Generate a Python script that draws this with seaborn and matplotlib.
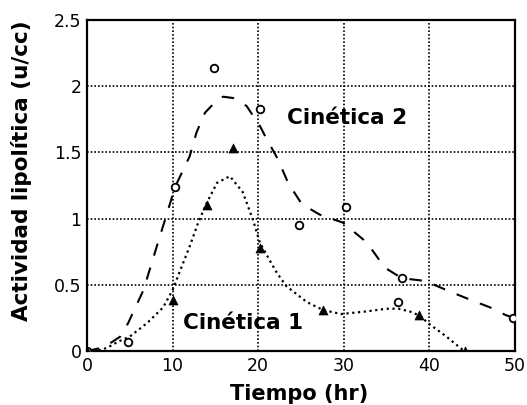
import numpy as np
import pandas as pd
import matplotlib
matplotlib.use("Agg")
import matplotlib.pyplot as plt
from matplotlib.ticker import MultipleLocator
import seaborn as sns

# ---- data ----
circ_t = [0, 4.8, 10.3, 14.8, 20.2, 24.8, 30.3, 36.4, 36.8, 49.8]
circ_v = [0, 0.07, 1.24, 2.14, 1.83, 0.95, 1.09, 0.37, 0.55, 0.25]

tri_t = [0, 10.1, 14.0, 17.1, 20.2, 27.6, 38.8, 44.2]
tri_v = [0, 0.385, 1.10, 1.53, 0.78, 0.31, 0.27, 0]

fit2_t = [0, 2, 3.9, 4.8, 6.6, 8.3, 9.5, 10.3, 12, 12.8, 13.8, 15, 15.9, 17.1,
          18.65, 20.2, 21, 22.3, 23.5, 25.1, 27.2, 29.9, 32.7, 34.8, 36.8,
          39.5, 42.4, 44.7, 47.1, 49, 50]
fit2_v = [0, 0.03, 0.11, 0.21, 0.46, 0.82, 1.07, 1.24, 1.47, 1.65, 1.80, 1.88,
          1.92, 1.91, 1.85, 1.70, 1.60, 1.45, 1.27, 1.11, 1.03, 0.97, 0.82,
          0.63, 0.55, 0.53, 0.45, 0.39, 0.33, 0.27, 0.25]

fit1_t = [0, 1.7, 2.5, 3.6, 5, 7, 8.9, 10, 10.9, 12, 13, 14, 15.2, 16.7, 18.2,
          19.4, 20.2, 21.4, 22.2, 23.3, 25.7, 27.6, 29.7, 32.7, 35, 36.4,
          37.7, 38.8, 40.1, 42, 43.7, 44.2]
fit1_v = [0, 0.01, 0.03, 0.07, 0.11, 0.21, 0.33, 0.46, 0.61, 0.79, 0.97, 1.12,
          1.27, 1.32, 1.20, 0.99, 0.82, 0.68, 0.59, 0.49, 0.37, 0.31, 0.28,
          0.30, 0.32, 0.32, 0.30, 0.27, 0.20, 0.11, 0.02, 0]

x_ticks = [0, 10, 20, 30, 40, 50]
x_labels = ["0", "10", "20", "30", "40", "50"]
y_ticks = [0, 0.5, 1, 1.5, 2, 2.5]
y_labels = ["0", "0.5", "1", "1.5", "2", "2.5"]

label_1 = "Cinética 1"
label_2 = "Cinética 2"
x_title = "Tiempo (hr)"
y_title = "Actividad lipolítica (u/cc)"

# ---- plotting ----
sns.set_style("white")
plt.rcParams['font.family'] = ['DejaVu Sans']
plt.rcParams['text.color'] = 'black'
plt.rcParams['axes.labelcolor'] = 'black'

fig = plt.figure(figsize=(5.27, 4.05), dpi=100)
fig.subplots_adjust(left=0.165, right=0.977, bottom=0.133, top=0.951)
ax = fig.add_subplot(111)

df_f2 = pd.DataFrame({"t": fit2_t, "v": fit2_v})
df_f1 = pd.DataFrame({"t": fit1_t, "v": fit1_v})
df_c = pd.DataFrame({"t": circ_t, "v": circ_v})
df_tr = pd.DataFrame({"t": tri_t, "v": tri_v})

sns.lineplot(data=df_f2, x="t", y="v", ax=ax, color="black", lw=1.5,
             estimator=None, sort=False, linestyle=(0, (6, 6)), zorder=3)
sns.lineplot(data=df_f1, x="t", y="v", ax=ax, color="black", lw=1.6,
             estimator=None, sort=False, linestyle=(0, (1, 1.6)), zorder=3)
sns.scatterplot(data=df_c, x="t", y="v", ax=ax, marker="o", s=30,
                facecolor="white", edgecolor="black", linewidth=1.3, zorder=4)
sns.scatterplot(data=df_tr, x="t", y="v", ax=ax, marker="^", s=42,
                color="black", edgecolor="black", linewidth=0.5, zorder=4)

ax.set_xlim(0, 50)
ax.set_ylim(0, 2.5)
ax.set_xticks(x_ticks)
ax.set_xticklabels(x_labels)
ax.set_yticks(y_ticks)
ax.set_yticklabels(y_labels)
ax.xaxis.set_minor_locator(MultipleLocator(2))
ax.yaxis.set_minor_locator(MultipleLocator(0.1))
ax.tick_params(axis="both", which="major", direction="in", length=4,
               width=1.2, labelsize=12.5, pad=4, colors="black")
ax.tick_params(axis="both", which="minor", direction="in", length=2.5,
               width=1.0, colors="black")

for y in y_ticks[1:-1]:
    ax.axhline(y, color="black", lw=1.2, linestyle=(0, (1, 1.2)), zorder=1)
for x in x_ticks[1:-1]:
    ax.axvline(x, color="black", lw=1.2, linestyle=(0, (1, 1.2)), zorder=1)

for sp in ax.spines.values():
    sp.set_visible(True)
    sp.set_color("black")
    sp.set_linewidth(1.6)

ax.set_xlabel(x_title, fontsize=15, fontweight="bold", color="black")
ax.set_ylabel(y_title, fontsize=15.5, fontweight="bold", color="black")
ax.xaxis.set_label_coords(0.495, -0.10)
ax.yaxis.set_label_coords(-0.128, 0.545)

ax.text(30.4, 1.76, label_2, fontsize=15.5, fontweight="bold", color="black",
        ha="center", va="center", zorder=5)
ax.text(18.2, 0.21, label_1, fontsize=15.5, fontweight="bold", color="black",
        ha="center", va="center", zorder=5)

fig.savefig("out.png", dpi=100)
